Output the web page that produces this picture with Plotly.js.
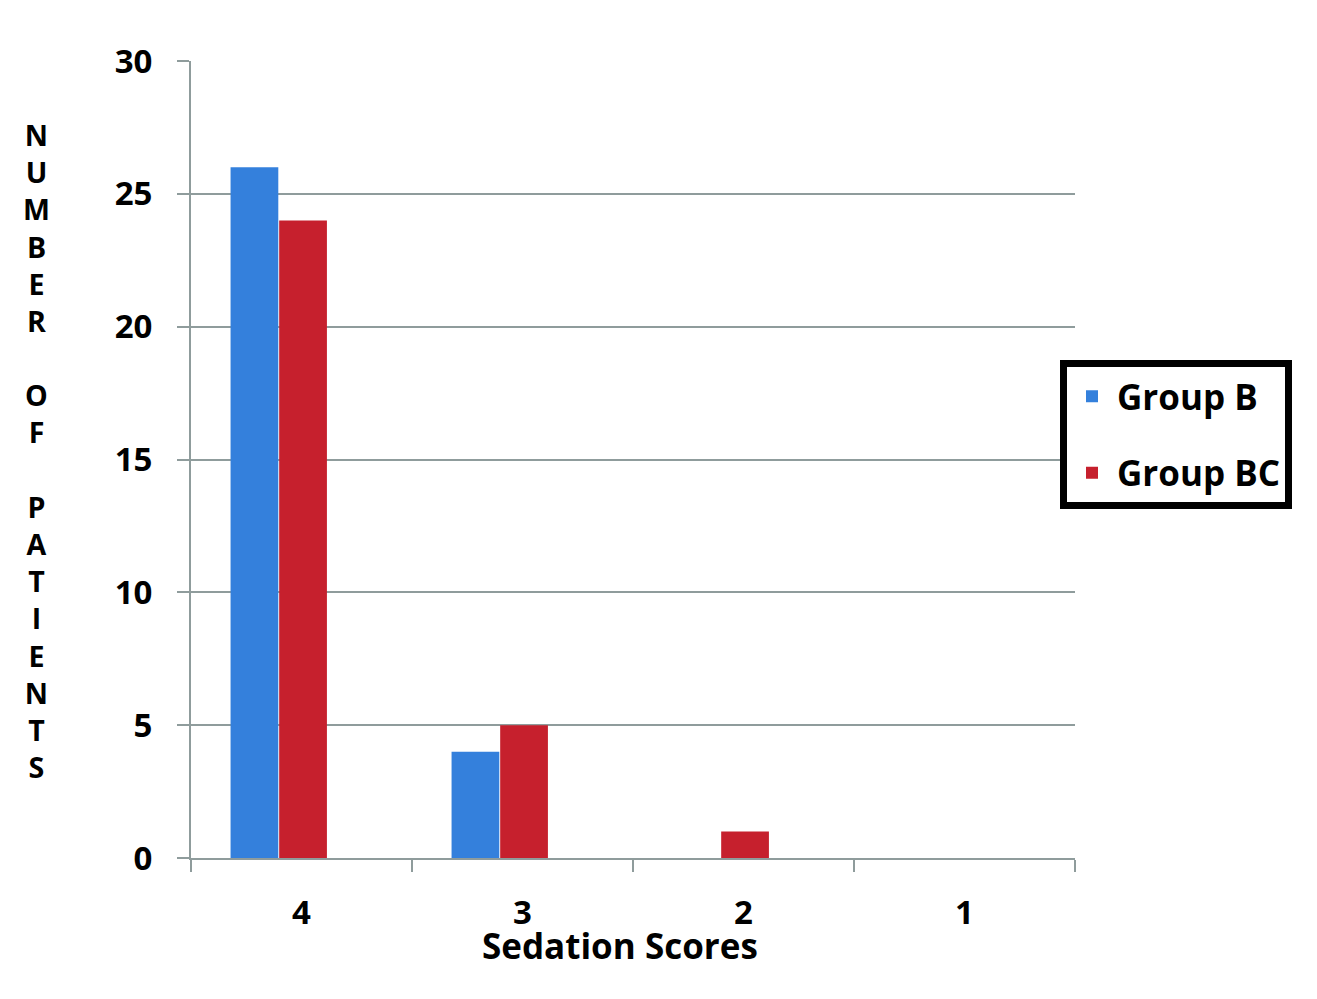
<!DOCTYPE html>
<html><head><meta charset="utf-8">
<script src="https://cdn.plot.ly/plotly-3.0.1.min.js"></script>
<style>body{margin:0;background:#fff}#chart{width:1317px;height:999px}</style>
</head><body><div id="chart"></div>
<script>
const categories = ['4', '3', '2', '1'];
const groupB = [26, 4, 0, 0];
const groupBC = [24, 5, 1, 0];
const yTicks = [0, 5, 10, 15, 20, 25, 30];
const yTitleLetters = ['N','U','M','B','E','R','','O','F','','P','A','T','I','E','N','T','S'];
const xTitle = 'Sedation Scores';

const FONT = 'Open Sans, Liberation Sans, sans-serif';
const GRID = '#8f9c9c';

const traces = [
  {type:'bar', name:'Group B', x:categories, y:groupB, legendgroup:'b',
   width:0.216, offset:-0.321,
   marker:{color:'#3480dc', line:{width:0}}},
  {type:'bar', name:'Group BC', x:categories, y:groupBC, legendgroup:'bc',
   width:0.216, offset:-0.101,
   marker:{color:'#c6202d', line:{width:0}}}
];

const M = {l:191, r:242, t:61, b:141};
const plotH = 999 - M.t - M.b;
const plotW = 1317 - M.l - M.r;

const annotations = [
  {text: yTitleLetters.map(c => c === '' ? ' ' : c).join('<br>'),
   xref:'paper', yref:'paper', showarrow:false,
   x: (36 - M.l) / plotW, y: (858 - 450) / plotH, xanchor:'center', yanchor:'middle',
   align:'center',
   font:{family:FONT, size:28.6, weight:700, color:'#000'}},
  {text: xTitle, xref:'paper', yref:'paper', showarrow:false,
   x: (620 - M.l) / plotW, y: (858 - 945) / plotH, xanchor:'center', yanchor:'middle',
   font:{family:FONT, size:35, weight:700, color:'#000'}}
];

const layout = {
  width:1317, height:999, margin:M,
  paper_bgcolor:'#fff', plot_bgcolor:'#fff',
  barmode:'group',
  showlegend:true,
  legend:{x:(1060 - M.l) / plotW, y:(858 - 360) / plotH, xanchor:'left', yanchor:'top',
    bordercolor:'#000', borderwidth:7, bgcolor:'#fff',
    traceorder:'grouped', tracegroupgap:28, itemwidth:40,
    font:{family:FONT, size:35, weight:700, color:'#000'}},
  xaxis:{type:'category', categoryorder:'array', categoryarray:categories,
    showline:true, linecolor:GRID, linewidth:2,
    ticks:'outside', tickson:'boundaries', ticklen:12, tickwidth:2, tickcolor:GRID,
    ticklabelstandoff:24,
    tickfont:{family:FONT, size:33, weight:700, color:'#000'}},
  yaxis:{range:[0,30], tickvals:yTicks, showgrid:true, gridcolor:GRID, gridwidth:2,
    showline:true, linecolor:GRID, linewidth:2, zeroline:false,
    ticks:'outside', ticklen:12, tickwidth:2, tickcolor:GRID,
    ticklabelstandoff:18,
    tickfont:{family:FONT, size:33, weight:700, color:'#000'}},
  annotations: annotations
};

Plotly.newPlot('chart', traces, layout, {displayModeBar:false, staticPlot:true});
</script></body></html>
